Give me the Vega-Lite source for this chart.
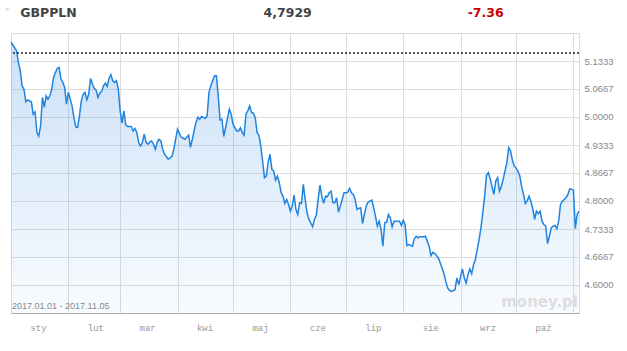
{
  "$schema": "https://vega.github.io/schema/vega-lite/v6.json",
  "width": 568,
  "height": 280,
  "autosize": {"type": "none"},
  "padding": {"left": 11, "top": 33, "right": 48, "bottom": 38},
  "background": "#ffffff",
  "config": {
    "view": {"stroke": "#dddddd", "strokeWidth": 1},
    "font": "Liberation Sans",
    "axisY": {"labelOverlap": false, "tickCount": 20}
  },
  "datasets": {
    "gbppln": [
      {"date": "2017-01-01", "value": 5.1780},
      {"date": "2017-01-02", "value": 5.1715},
      {"date": "2017-01-04", "value": 5.1579},
      {"date": "2017-01-05", "value": 5.1302},
      {"date": "2017-01-06", "value": 5.1101},
      {"date": "2017-01-07", "value": 5.0743},
      {"date": "2017-01-08", "value": 5.0664},
      {"date": "2017-01-09", "value": 5.0361},
      {"date": "2017-01-10", "value": 5.0409},
      {"date": "2017-01-12", "value": 5.0361},
      {"date": "2017-01-13", "value": 5.0067},
      {"date": "2017-01-14", "value": 5.0122},
      {"date": "2017-01-15", "value": 4.9630},
      {"date": "2017-01-16", "value": 4.9549},
      {"date": "2017-01-17", "value": 4.9788},
      {"date": "2017-01-18", "value": 5.0466},
      {"date": "2017-01-19", "value": 5.0227},
      {"date": "2017-01-20", "value": 5.0504},
      {"date": "2017-01-21", "value": 5.0426},
      {"date": "2017-01-22", "value": 5.0504},
      {"date": "2017-01-23", "value": 5.0664},
      {"date": "2017-01-24", "value": 5.0944},
      {"date": "2017-01-26", "value": 5.1159},
      {"date": "2017-01-27", "value": 5.1183},
      {"date": "2017-01-28", "value": 5.0903},
      {"date": "2017-01-29", "value": 5.0824},
      {"date": "2017-01-30", "value": 5.0705},
      {"date": "2017-01-31", "value": 5.0306},
      {"date": "2017-02-01", "value": 5.0586},
      {"date": "2017-02-03", "value": 5.0266},
      {"date": "2017-02-04", "value": 4.9989},
      {"date": "2017-02-05", "value": 4.9764},
      {"date": "2017-02-06", "value": 4.9750},
      {"date": "2017-02-07", "value": 5.0027},
      {"date": "2017-02-08", "value": 5.0385},
      {"date": "2017-02-09", "value": 5.0538},
      {"date": "2017-02-10", "value": 5.0586},
      {"date": "2017-02-11", "value": 5.0409},
      {"date": "2017-02-12", "value": 5.0545},
      {"date": "2017-02-13", "value": 5.0920},
      {"date": "2017-02-14", "value": 5.0784},
      {"date": "2017-02-15", "value": 5.0681},
      {"date": "2017-02-16", "value": 5.0640},
      {"date": "2017-02-17", "value": 5.0466},
      {"date": "2017-02-18", "value": 5.0569},
      {"date": "2017-02-19", "value": 5.0609},
      {"date": "2017-02-20", "value": 5.0743},
      {"date": "2017-02-21", "value": 5.0808},
      {"date": "2017-02-22", "value": 5.0729},
      {"date": "2017-02-23", "value": 5.0920},
      {"date": "2017-02-24", "value": 5.1006},
      {"date": "2017-02-25", "value": 5.0863},
      {"date": "2017-02-26", "value": 5.0824},
      {"date": "2017-02-27", "value": 5.0863},
      {"date": "2017-02-28", "value": 5.0664},
      {"date": "2017-03-01", "value": 5.0146},
      {"date": "2017-03-02", "value": 4.9852},
      {"date": "2017-03-03", "value": 5.0146},
      {"date": "2017-03-04", "value": 4.9812},
      {"date": "2017-03-05", "value": 4.9774},
      {"date": "2017-03-07", "value": 4.9774},
      {"date": "2017-03-08", "value": 4.9669},
      {"date": "2017-03-09", "value": 4.9726},
      {"date": "2017-03-10", "value": 4.9630},
      {"date": "2017-03-11", "value": 4.9392},
      {"date": "2017-03-12", "value": 4.9310},
      {"date": "2017-03-13", "value": 4.9392},
      {"date": "2017-03-14", "value": 4.9590},
      {"date": "2017-03-15", "value": 4.9392},
      {"date": "2017-03-16", "value": 4.9351},
      {"date": "2017-03-17", "value": 4.9406},
      {"date": "2017-03-18", "value": 4.9430},
      {"date": "2017-03-19", "value": 4.9351},
      {"date": "2017-03-20", "value": 4.9232},
      {"date": "2017-03-21", "value": 4.9392},
      {"date": "2017-03-22", "value": 4.9470},
      {"date": "2017-03-23", "value": 4.9430},
      {"date": "2017-03-24", "value": 4.9232},
      {"date": "2017-03-25", "value": 4.9112},
      {"date": "2017-03-27", "value": 4.8993},
      {"date": "2017-03-29", "value": 4.9064},
      {"date": "2017-03-30", "value": 4.9232},
      {"date": "2017-04-01", "value": 4.9709},
      {"date": "2017-04-03", "value": 4.9518},
      {"date": "2017-04-05", "value": 4.9470},
      {"date": "2017-04-07", "value": 4.9566},
      {"date": "2017-04-08", "value": 4.9279},
      {"date": "2017-04-09", "value": 4.9470},
      {"date": "2017-04-11", "value": 4.9876},
      {"date": "2017-04-12", "value": 4.9996},
      {"date": "2017-04-13", "value": 4.9948},
      {"date": "2017-04-14", "value": 5.0012},
      {"date": "2017-04-16", "value": 4.9965},
      {"date": "2017-04-17", "value": 5.0027},
      {"date": "2017-04-18", "value": 5.0586},
      {"date": "2017-04-19", "value": 5.0743},
      {"date": "2017-04-21", "value": 5.0982},
      {"date": "2017-04-22", "value": 5.0982},
      {"date": "2017-04-23", "value": 5.0504},
      {"date": "2017-04-24", "value": 4.9931},
      {"date": "2017-04-25", "value": 4.9948},
      {"date": "2017-04-26", "value": 4.9535},
      {"date": "2017-04-27", "value": 4.9750},
      {"date": "2017-04-29", "value": 5.0187},
      {"date": "2017-04-30", "value": 5.0067},
      {"date": "2017-05-01", "value": 4.9829},
      {"date": "2017-05-03", "value": 4.9669},
      {"date": "2017-05-04", "value": 4.9669},
      {"date": "2017-05-05", "value": 4.9740},
      {"date": "2017-05-06", "value": 4.9630},
      {"date": "2017-05-07", "value": 4.9566},
      {"date": "2017-05-08", "value": 5.0067},
      {"date": "2017-05-09", "value": 5.0146},
      {"date": "2017-05-10", "value": 5.0266},
      {"date": "2017-05-11", "value": 5.0108},
      {"date": "2017-05-12", "value": 5.0091},
      {"date": "2017-05-13", "value": 4.9989},
      {"date": "2017-05-14", "value": 4.9630},
      {"date": "2017-05-15", "value": 4.9566},
      {"date": "2017-05-16", "value": 4.9310},
      {"date": "2017-05-17", "value": 4.8952},
      {"date": "2017-05-18", "value": 4.8556},
      {"date": "2017-05-19", "value": 4.8594},
      {"date": "2017-05-20", "value": 4.8928},
      {"date": "2017-05-21", "value": 4.9112},
      {"date": "2017-05-22", "value": 4.8754},
      {"date": "2017-05-23", "value": 4.8713},
      {"date": "2017-05-24", "value": 4.8498},
      {"date": "2017-05-25", "value": 4.8594},
      {"date": "2017-05-26", "value": 4.8436},
      {"date": "2017-05-27", "value": 4.8198},
      {"date": "2017-05-28", "value": 4.8116},
      {"date": "2017-05-29", "value": 4.7942},
      {"date": "2017-05-30", "value": 4.8037},
      {"date": "2017-05-31", "value": 4.7918},
      {"date": "2017-06-01", "value": 4.7758},
      {"date": "2017-06-02", "value": 4.7878},
      {"date": "2017-06-03", "value": 4.8140},
      {"date": "2017-06-04", "value": 4.7799},
      {"date": "2017-06-05", "value": 4.7679},
      {"date": "2017-06-06", "value": 4.7959},
      {"date": "2017-06-07", "value": 4.7942},
      {"date": "2017-06-08", "value": 4.8396},
      {"date": "2017-06-09", "value": 4.8037},
      {"date": "2017-06-10", "value": 4.7720},
      {"date": "2017-06-11", "value": 4.7560},
      {"date": "2017-06-12", "value": 4.7481},
      {"date": "2017-06-13", "value": 4.7386},
      {"date": "2017-06-14", "value": 4.7560},
      {"date": "2017-06-15", "value": 4.7655},
      {"date": "2017-06-16", "value": 4.8037},
      {"date": "2017-06-17", "value": 4.8379},
      {"date": "2017-06-18", "value": 4.8116},
      {"date": "2017-06-19", "value": 4.7942},
      {"date": "2017-06-20", "value": 4.8116},
      {"date": "2017-06-21", "value": 4.8102},
      {"date": "2017-06-22", "value": 4.8198},
      {"date": "2017-06-23", "value": 4.8236},
      {"date": "2017-06-24", "value": 4.7959},
      {"date": "2017-06-25", "value": 4.7959},
      {"date": "2017-06-26", "value": 4.8078},
      {"date": "2017-06-27", "value": 4.7734},
      {"date": "2017-06-28", "value": 4.7878},
      {"date": "2017-06-29", "value": 4.8037},
      {"date": "2017-06-30", "value": 4.8198},
      {"date": "2017-07-01", "value": 4.8198},
      {"date": "2017-07-02", "value": 4.8212},
      {"date": "2017-07-03", "value": 4.8300},
      {"date": "2017-07-04", "value": 4.8198},
      {"date": "2017-07-05", "value": 4.8157},
      {"date": "2017-07-06", "value": 4.8037},
      {"date": "2017-07-07", "value": 4.7799},
      {"date": "2017-07-08", "value": 4.7823},
      {"date": "2017-07-09", "value": 4.7839},
      {"date": "2017-07-10", "value": 4.7464},
      {"date": "2017-07-11", "value": 4.7679},
      {"date": "2017-07-12", "value": 4.7878},
      {"date": "2017-07-13", "value": 4.7973},
      {"date": "2017-07-15", "value": 4.8021},
      {"date": "2017-07-16", "value": 4.7839},
      {"date": "2017-07-17", "value": 4.7639},
      {"date": "2017-07-18", "value": 4.7400},
      {"date": "2017-07-19", "value": 4.7519},
      {"date": "2017-07-20", "value": 4.7321},
      {"date": "2017-07-21", "value": 4.6922},
      {"date": "2017-07-22", "value": 4.7481},
      {"date": "2017-07-23", "value": 4.7495},
      {"date": "2017-07-24", "value": 4.7679},
      {"date": "2017-07-25", "value": 4.7600},
      {"date": "2017-07-26", "value": 4.7386},
      {"date": "2017-07-27", "value": 4.7519},
      {"date": "2017-07-29", "value": 4.7519},
      {"date": "2017-07-30", "value": 4.7519},
      {"date": "2017-07-31", "value": 4.7417},
      {"date": "2017-08-01", "value": 4.7543},
      {"date": "2017-08-02", "value": 4.7441},
      {"date": "2017-08-03", "value": 4.6939},
      {"date": "2017-08-04", "value": 4.6963},
      {"date": "2017-08-06", "value": 4.6922},
      {"date": "2017-08-07", "value": 4.7099},
      {"date": "2017-08-08", "value": 4.7161},
      {"date": "2017-08-09", "value": 4.7123},
      {"date": "2017-08-10", "value": 4.7147},
      {"date": "2017-08-12", "value": 4.7147},
      {"date": "2017-08-13", "value": 4.7161},
      {"date": "2017-08-15", "value": 4.6922},
      {"date": "2017-08-16", "value": 4.6700},
      {"date": "2017-08-17", "value": 4.6779},
      {"date": "2017-08-18", "value": 4.6748},
      {"date": "2017-08-19", "value": 4.6700},
      {"date": "2017-08-20", "value": 4.6645},
      {"date": "2017-08-21", "value": 4.6526},
      {"date": "2017-08-22", "value": 4.6407},
      {"date": "2017-08-23", "value": 4.6270},
      {"date": "2017-08-24", "value": 4.6087},
      {"date": "2017-08-25", "value": 4.5929},
      {"date": "2017-08-26", "value": 4.5872},
      {"date": "2017-08-27", "value": 4.5848},
      {"date": "2017-08-29", "value": 4.5888},
      {"date": "2017-08-30", "value": 4.6168},
      {"date": "2017-08-31", "value": 4.6008},
      {"date": "2017-09-01", "value": 4.6206},
      {"date": "2017-09-02", "value": 4.6382},
      {"date": "2017-09-03", "value": 4.6168},
      {"date": "2017-09-04", "value": 4.6048},
      {"date": "2017-09-05", "value": 4.6246},
      {"date": "2017-09-06", "value": 4.6382},
      {"date": "2017-09-07", "value": 4.6270},
      {"date": "2017-09-08", "value": 4.6485},
      {"date": "2017-09-09", "value": 4.6605},
      {"date": "2017-09-10", "value": 4.6843},
      {"date": "2017-09-11", "value": 4.7082},
      {"date": "2017-09-12", "value": 4.7362},
      {"date": "2017-09-13", "value": 4.7720},
      {"date": "2017-09-14", "value": 4.8116},
      {"date": "2017-09-15", "value": 4.8611},
      {"date": "2017-09-16", "value": 4.8675},
      {"date": "2017-09-17", "value": 4.8532},
      {"date": "2017-09-18", "value": 4.8341},
      {"date": "2017-09-19", "value": 4.8157},
      {"date": "2017-09-20", "value": 4.8475},
      {"date": "2017-09-21", "value": 4.8556},
      {"date": "2017-09-22", "value": 4.8236},
      {"date": "2017-09-23", "value": 4.8341},
      {"date": "2017-09-24", "value": 4.8515},
      {"date": "2017-09-25", "value": 4.8713},
      {"date": "2017-09-26", "value": 4.8914},
      {"date": "2017-09-27", "value": 4.9272},
      {"date": "2017-09-28", "value": 4.9191},
      {"date": "2017-09-29", "value": 4.8976},
      {"date": "2017-09-30", "value": 4.8833},
      {"date": "2017-10-01", "value": 4.8778},
      {"date": "2017-10-02", "value": 4.8713},
      {"date": "2017-10-03", "value": 4.8594},
      {"date": "2017-10-04", "value": 4.8341},
      {"date": "2017-10-05", "value": 4.8157},
      {"date": "2017-10-06", "value": 4.7942},
      {"date": "2017-10-07", "value": 4.7997},
      {"date": "2017-10-08", "value": 4.8116},
      {"date": "2017-10-09", "value": 4.7997},
      {"date": "2017-10-10", "value": 4.7815},
      {"date": "2017-10-11", "value": 4.7560},
      {"date": "2017-10-12", "value": 4.7758},
      {"date": "2017-10-13", "value": 4.7703},
      {"date": "2017-10-14", "value": 4.7758},
      {"date": "2017-10-15", "value": 4.7519},
      {"date": "2017-10-16", "value": 4.7441},
      {"date": "2017-10-17", "value": 4.7400},
      {"date": "2017-10-18", "value": 4.6987},
      {"date": "2017-10-19", "value": 4.7161},
      {"date": "2017-10-20", "value": 4.7362},
      {"date": "2017-10-21", "value": 4.7400},
      {"date": "2017-10-22", "value": 4.7417},
      {"date": "2017-10-23", "value": 4.7338},
      {"date": "2017-10-24", "value": 4.7519},
      {"date": "2017-10-25", "value": 4.7918},
      {"date": "2017-10-26", "value": 4.7997},
      {"date": "2017-10-27", "value": 4.8037},
      {"date": "2017-10-28", "value": 4.8078},
      {"date": "2017-10-29", "value": 4.8157},
      {"date": "2017-10-30", "value": 4.8293},
      {"date": "2017-10-31", "value": 4.8276},
      {"date": "2017-11-01", "value": 4.8260},
      {"date": "2017-11-02", "value": 4.7345},
      {"date": "2017-11-03", "value": 4.7679},
      {"date": "2017-11-04", "value": 4.7758}
    ]
  },
  "data": {"name": "gbppln"},
  "layer": [
    {
      "mark": {
        "type": "area",
        "color": {
          "gradient": "linear",
          "x1": 0, "y1": 0, "x2": 0, "y2": 1,
          "stops": [
            {"offset": 0, "color": "rgba(40,130,225,0.24)"},
            {"offset": 1, "color": "rgba(40,130,225,0.03)"}
          ]
        }
      },
      "encoding": {
        "x": {
          "field": "date",
          "type": "temporal",
          "scale": {
            "type": "utc",
            "nice": false,
            "domain": [
              {"year": 2017, "month": 1, "date": 1, "utc": true},
              {"year": 2017, "month": 11, "date": 4, "utc": true}
            ]
          },
          "axis": {
            "title": null,
            "tickCount": 30,
            "values": [
              {"year": 2017, "month": 1, "date": 1, "utc": true},
              {"year": 2017, "month": 2, "date": 1, "utc": true},
              {"year": 2017, "month": 3, "date": 1, "utc": true},
              {"year": 2017, "month": 4, "date": 1, "utc": true},
              {"year": 2017, "month": 5, "date": 1, "utc": true},
              {"year": 2017, "month": 6, "date": 1, "utc": true},
              {"year": 2017, "month": 7, "date": 1, "utc": true},
              {"year": 2017, "month": 8, "date": 1, "utc": true},
              {"year": 2017, "month": 9, "date": 1, "utc": true},
              {"year": 2017, "month": 10, "date": 1, "utc": true},
              {"year": 2017, "month": 11, "date": 1, "utc": true}
            ],
            "labelExpr": "utcmonth(datum.value) == 10 ? '' : ['sty','lut','mar','kwi','maj','cze','lip','sie','wrz','paź','lis','gru'][utcmonth(datum.value)]",
            "labelOffset": 27,
            "labelFlush": false,
            "labelOverlap": false,
            "labelAlign": "center",
            "labelBaseline": "middle",
            "labelPadding": 14,
            "labelFont": "Liberation Mono",
            "labelFontSize": 9,
            "labelColor": "#999999",
            "ticks": false,
            "tickSize": 0,
            "domain": true,
            "domainColor": "#aaaaaa",
            "domainWidth": 1,
            "grid": true,
            "gridColor": "#dddddd",
            "gridWidth": 1
          }
        },
        "y": {
          "field": "value",
          "type": "quantitative",
          "scale": {"domain": [4.533333, 5.2], "nice": false, "zero": false},
          "axis": {
            "title": null,
            "orient": "right",
            "tickCount": 20,
            "values": [4.6, 4.666667, 4.733333, 4.8, 4.866667, 4.933333, 5.0, 5.066667, 5.133333],
            "format": ".4f",
            "labelFont": "Liberation Sans",
            "labelFontSize": 9.5,
            "labelColor": "#888888",
            "labelPadding": 5,
            "labelOverlap": false,
            "labelFlush": false,
            "ticks": false,
            "tickSize": 0,
            "domain": false,
            "grid": true,
            "gridColor": "#dddddd",
            "gridWidth": 1
          }
        },
        "y2": {"datum": 4.533333}
      }
    },
    {
      "mark": {"type": "line", "color": "#1f84e0", "strokeWidth": 1.5, "interpolate": "linear"},
      "encoding": {
        "x": {"field": "date", "type": "temporal"},
        "y": {"field": "value", "type": "quantitative"}
      }
    },
    {
      "data": {"values": [{}]},
      "mark": {"type": "rule", "color": "#222222", "strokeWidth": 1.5, "strokeDash": [2, 2]},
      "encoding": {
        "y": {"datum": 5.1524, "type": "quantitative"}
      }
    },
    {
      "data": {"values": [{}]},
      "mark": {"type": "text", "text": "2017.01.01 - 2017.11.05", "align": "left", "baseline": "middle", "dx": 1, "font": "Liberation Sans", "fontSize": 9, "color": "#888888"},
      "encoding": {
        "x": {"datum": {"year": 2017, "month": 1, "date": 1, "utc": true}, "type": "temporal"},
        "y": {"datum": 4.5506, "type": "quantitative"}
      }
    },
    {
      "data": {"values": [{}]},
      "mark": {"type": "text", "text": "money.pl", "align": "right", "baseline": "alphabetic", "dx": -1, "font": "DejaVu Sans", "fontWeight": "bold", "fontSize": 15, "color": "#dedede"},
      "encoding": {
        "x": {"datum": {"year": 2017, "month": 11, "date": 4, "utc": true}, "type": "temporal"},
        "y": {"datum": 4.5482, "type": "quantitative"}
      }
    },
    {
      "data": {"values": [{}]},
      "mark": {"type": "text", "text": "˅", "align": "center", "baseline": "middle", "font": "DejaVu Sans", "fontSize": 9, "color": "#aaaaaa"},
      "encoding": {
        "x": {"datum": {"year": 2016, "month": 12, "date": 30, "utc": true}, "type": "temporal"},
        "y": {"datum": 5.2495, "type": "quantitative"}
      }
    },
    {
      "data": {"values": [{}]},
      "mark": {"type": "text", "text": "GBPPLN", "align": "left", "baseline": "middle", "font": "DejaVu Sans", "fontWeight": "bold", "fontSize": 12.5, "color": "#444444"},
      "encoding": {
        "x": {"datum": {"year": 2017, "month": 1, "date": 6, "utc": true}, "type": "temporal"},
        "y": {"datum": 5.2472, "type": "quantitative"}
      }
    },
    {
      "data": {"values": [{}]},
      "mark": {"type": "text", "text": "4,7929", "align": "center", "baseline": "middle", "dx": 1, "font": "DejaVu Sans", "fontWeight": "bold", "fontSize": 12.5, "color": "#444444"},
      "encoding": {
        "x": {"datum": {"year": 2017, "month": 5, "date": 30, "utc": true}, "type": "temporal"},
        "y": {"datum": 5.2472, "type": "quantitative"}
      }
    },
    {
      "data": {"values": [{}]},
      "mark": {"type": "text", "text": "-7.36", "align": "center", "baseline": "middle", "dx": 1, "font": "DejaVu Sans", "fontWeight": "bold", "fontSize": 12.5, "color": "#cc0000"},
      "encoding": {
        "x": {"datum": {"year": 2017, "month": 9, "date": 14, "utc": true}, "type": "temporal"},
        "y": {"datum": 5.2472, "type": "quantitative"}
      }
    }
  ]
}
